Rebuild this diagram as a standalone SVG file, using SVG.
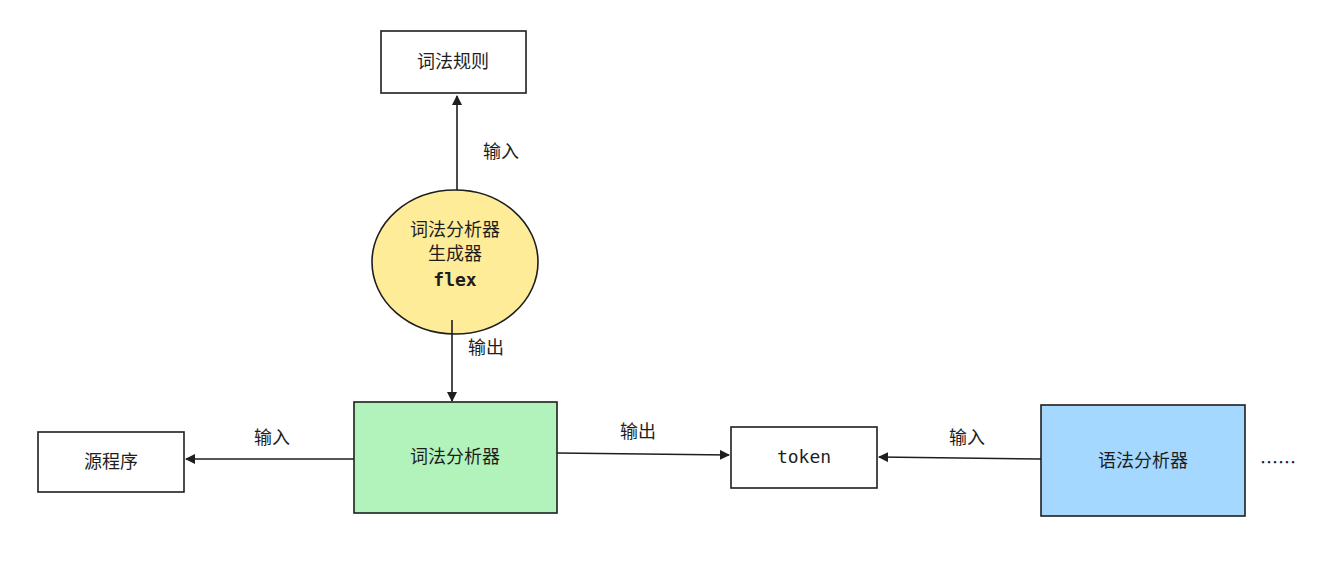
<svg xmlns="http://www.w3.org/2000/svg" width="1338" height="566" viewBox="0 0 1338 566">
<style>
.n{stroke:#1e1e1e;stroke-width:1.6}
.t{font-family:"Noto Sans CJK SC","Noto Sans",sans-serif;font-size:18px;fill:#1e1e1e;text-anchor:middle}
.m{font-family:"DejaVu Sans Mono","Liberation Mono",monospace;font-size:18px;fill:#1e1e1e;text-anchor:middle}
.c{stroke:#1e1e1e;stroke-width:1.6;fill:none}
</style>
<defs><marker id="a" viewBox="0 0 10 10" refX="9" refY="5" markerWidth="10" markerHeight="10" orient="auto" markerUnits="userSpaceOnUse"><path d="M0,0L10,5L0,10Z" fill="#1e1e1e"/></marker></defs>
<rect width="1338" height="566" fill="#fff"/>
<g id="rules"><rect class="n" x="381" y="31" width="145" height="62" fill="#fff"/><text class="t" x="453" y="68">词法规则</text></g>
<g id="gen"><ellipse class="n" cx="455" cy="262" rx="83" ry="72" fill="#ffec99"/><text class="t" x="455" y="236">词法分析器</text><text class="t" x="455" y="260">生成器</text><text class="m" x="455" y="286" font-weight="bold">flex</text></g>
<g id="lexer"><rect class="n" x="354" y="402" width="203" height="111" fill="#b2f2bb"/><text class="t" x="455" y="463">词法分析器</text></g>
<g id="src"><rect class="n" x="38" y="432" width="146" height="60" fill="#fff"/><text class="t" x="111" y="468">源程序</text></g>
<g id="token"><rect class="n" x="731" y="427" width="146" height="61" fill="#fff"/><text class="m" x="804" y="463">token</text></g>
<g id="parser"><rect class="n" x="1041" y="405" width="204" height="111" fill="#a5d8ff"/><text class="t" x="1143" y="467">语法分析器</text></g>
<text class="t" x="1278" y="469">……</text>
<g id="connectors">
<path class="c" d="M457,190L457,96" marker-end="url(#a)"/><text class="t" x="501" y="158">输入</text>
<path class="c" d="M452,320L452,401" marker-end="url(#a)"/><text class="t" x="486" y="354">输出</text>
<path class="c" d="M354,459L186,459" marker-end="url(#a)"/><text class="t" x="272" y="444">输入</text>
<path class="c" d="M557,453L729,455" marker-end="url(#a)"/><text class="t" x="638" y="438">输出</text>
<path class="c" d="M1041,459L879,457" marker-end="url(#a)"/><text class="t" x="967" y="444">输入</text>
</g>
</svg>
